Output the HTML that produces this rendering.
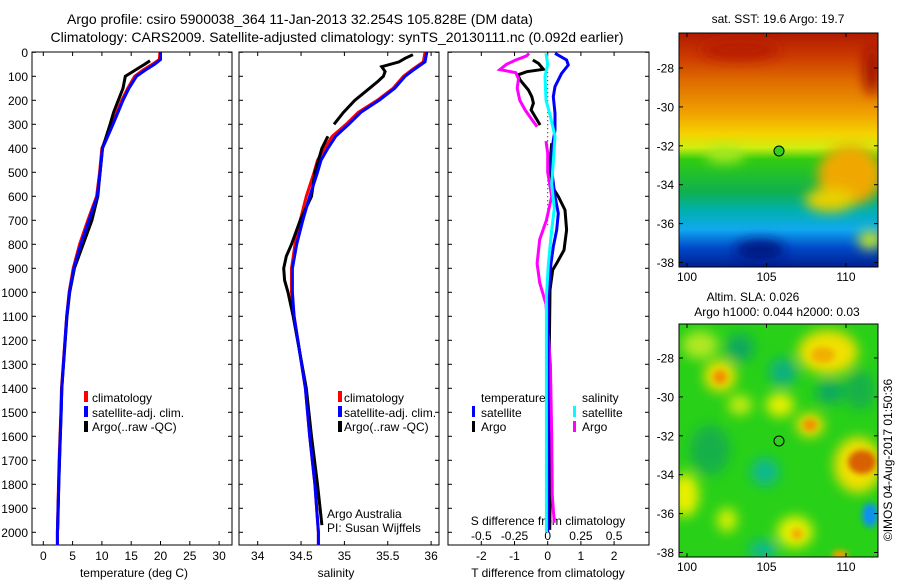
<!DOCTYPE html>
<html><head><meta charset="utf-8">
<style>
html,body{margin:0;padding:0;background:#fff;}
svg{display:block;font-family:"Liberation Sans",sans-serif;}
text{fill:#000;}
</style></head>
<body>
<svg id="fig" width="900" height="580" viewBox="0 0 900 580" xmlns="http://www.w3.org/2000/svg">
<defs>
<linearGradient id="sstgrad" x1="0" y1="0" x2="0" y2="1">
<stop offset="0" stop-color="#b01a00"/><stop offset="0.1" stop-color="#cc3a00"/>
<stop offset="0.2" stop-color="#de6a00"/><stop offset="0.34" stop-color="#f0a000"/>
<stop offset="0.43" stop-color="#f5d200"/><stop offset="0.49" stop-color="#d0ee10"/>
<stop offset="0.54" stop-color="#30cc10"/><stop offset="0.68" stop-color="#10b050"/>
<stop offset="0.76" stop-color="#00b0b0"/><stop offset="0.84" stop-color="#10a8f0"/>
<stop offset="0.92" stop-color="#0048c8"/><stop offset="1" stop-color="#002090"/>
</linearGradient>
<filter id="blur" x="-50%" y="-50%" width="200%" height="200%"><feGaussianBlur stdDeviation="6"/></filter>
<filter id="blur2" x="-50%" y="-50%" width="200%" height="200%"><feGaussianBlur stdDeviation="3"/></filter>
<clipPath id="clip1"><rect x="679" y="33" width="199" height="234"/></clipPath>
<clipPath id="clip2"><rect x="679" y="324" width="199" height="233"/></clipPath>
</defs>

<text x="300" y="24" font-size="14" text-anchor="middle">Argo profile: csiro 5900038_364 11-Jan-2013 32.254S 105.828E (DM data)</text>
<text x="337" y="42" font-size="14" text-anchor="middle">Climatology: CARS2009. Satellite-adjusted climatology: synTS_20130111.nc (0.092d earlier)</text>

<!-- SST map -->
<g>
<text x="778" y="23" font-size="12" text-anchor="middle">sat. SST: 19.6 Argo: 19.7</text>
<g clip-path="url(#clip1)">
<rect x="679" y="33" width="199" height="234" fill="url(#sstgrad)"/>
<g filter="url(#blur)">
<ellipse cx="850" cy="175" rx="32" ry="30" fill="#f0a800"/>
<ellipse cx="830" cy="200" rx="25" ry="12" fill="#e8d000"/>
<ellipse cx="870" cy="240" rx="12" ry="9" fill="#c8e820"/>
<ellipse cx="872" cy="70" rx="8" ry="25" fill="#a01000"/>
<ellipse cx="740" cy="50" rx="40" ry="10" fill="#b81a00"/>
<ellipse cx="760" cy="250" rx="25" ry="10" fill="#001880"/>
<ellipse cx="725" cy="155" rx="20" ry="8" fill="#a8e820"/>
</g>
</g>
<rect x="679" y="33" width="199" height="234" fill="none" stroke="#000"/>
<circle cx="779" cy="151" r="5" fill="#30d020" stroke="#000"/>
</g>

<!-- SLA map -->
<g>
<text x="753" y="301" font-size="12" text-anchor="middle">Altim. SLA: 0.026</text>
<text x="777" y="316" font-size="12" text-anchor="middle">Argo h1000: 0.044 h2000: 0.03</text>
<g clip-path="url(#clip2)">
<rect x="679" y="324" width="199" height="233" fill="#28d018"/>
<g filter="url(#blur)">
<ellipse cx="740" cy="348" rx="14" ry="14" fill="#10a860"/>
<ellipse cx="783" cy="372" rx="14" ry="14" fill="#10b080"/>
<ellipse cx="830" cy="392" rx="14" ry="12" fill="#10a860"/>
<ellipse cx="765" cy="472" rx="14" ry="14" fill="#10b890"/>
<ellipse cx="763" cy="550" rx="14" ry="10" fill="#10b890"/>
<ellipse cx="710" cy="450" rx="20" ry="25" fill="#18b048"/>
<ellipse cx="860" cy="390" rx="15" ry="20" fill="#18b048"/>
<ellipse cx="720" cy="376" rx="16" ry="16" fill="#f0e000"/>
<ellipse cx="828" cy="352" rx="30" ry="22" fill="#f0e000"/>
<ellipse cx="780" cy="405" rx="14" ry="12" fill="#e8f000"/>
<ellipse cx="810" cy="425" rx="14" ry="12" fill="#f0e000"/>
<ellipse cx="858" cy="465" rx="24" ry="28" fill="#f0e000"/>
<ellipse cx="685" cy="495" rx="14" ry="22" fill="#e8f000"/>
<ellipse cx="795" cy="532" rx="18" ry="16" fill="#e8f000"/>
<ellipse cx="727" cy="520" rx="10" ry="12" fill="#d8f000"/>
<ellipse cx="700" cy="345" rx="18" ry="14" fill="#b0e820"/>
<ellipse cx="740" cy="405" rx="12" ry="10" fill="#c8ec10"/>
</g>
<g filter="url(#blur2)">
<ellipse cx="720" cy="377" rx="7" ry="7" fill="#f09000"/>
<ellipse cx="823" cy="355" rx="12" ry="8" fill="#f0b000"/>
<ellipse cx="810" cy="425" rx="7" ry="6" fill="#f09000"/>
<ellipse cx="862" cy="462" rx="14" ry="12" fill="#d86000"/>
<ellipse cx="870" cy="515" rx="8" ry="12" fill="#1090f0"/>
<ellipse cx="797" cy="534" rx="6" ry="6" fill="#f0b000"/>
<ellipse cx="840" cy="555" rx="8" ry="5" fill="#f0a000"/>
</g>
</g>
<rect x="679" y="324" width="199" height="233" fill="none" stroke="#000"/>
<circle cx="779" cy="441" r="5" fill="#30d020" stroke="#000"/>
<text transform="translate(892,460) rotate(-90)" font-size="12" text-anchor="middle">©IMOS 04-Aug-2017 01:50:36</text>
</g>

<!-- legends and labels -->
<g>
<rect x="84" y="391" width="4" height="11" fill="#f00"/><text x="92" y="402" font-size="12">climatology</text>
<rect x="84" y="406" width="4" height="11" fill="#00f"/><text x="92" y="417" font-size="12">satellite-adj. clim.</text>
<rect x="84" y="421" width="4" height="11" fill="#000"/><text x="92" y="431" font-size="12">Argo(..raw -QC)</text>
</g>
<g>
<rect x="338" y="391" width="4" height="11" fill="#f00"/><text x="344" y="402" font-size="12">climatology</text>
<rect x="338" y="406" width="4" height="11" fill="#00f"/><text x="344" y="417" font-size="12">satellite-adj. clim.</text>
<rect x="338" y="421" width="4" height="11" fill="#000"/><text x="344" y="431" font-size="12">Argo(..raw -QC)</text>
</g>
<text x="327" y="518" font-size="12">Argo Australia</text>
<text x="327" y="532" font-size="12">PI: Susan Wijffels</text>
<g>
<text x="481" y="402" font-size="12">temperature</text>
<text x="582" y="402" font-size="12">salinity</text>
<rect x="472" y="406" width="3" height="11" fill="#00f"/><text x="481" y="417" font-size="12">satellite</text>
<rect x="472" y="421" width="3" height="11" fill="#000"/><text x="481" y="431" font-size="12">Argo</text>
<rect x="573" y="406" width="3" height="11" fill="#0ff"/><text x="582" y="417" font-size="12">satellite</text>
<rect x="573" y="421" width="3" height="11" fill="#f0f"/><text x="582" y="431" font-size="12">Argo</text>
</g>
<text x="548" y="525" font-size="12" text-anchor="middle">S difference from climatology</text>
<text x="548" y="577" font-size="12" text-anchor="middle">T difference from climatology</text>
<text x="134" y="577" font-size="12" text-anchor="middle">temperature (deg C)</text>
<text x="336" y="577" font-size="12" text-anchor="middle">salinity</text>
<g id="plots"></g>
</svg>
<script>
// ---- data ----
const depthTicks=[0,100,200,300,400,500,600,700,800,900,1000,1100,1200,1300,1400,1500,1600,1700,1800,1900,2000];
const tempTicks=[0,5,10,15,20,25,30];
const salTicks=[34,34.5,35,35.5,36];
const tdiffTicks=[-2,-1,0,1,2];
const sdiffTicks=[-0.5,-0.25,0,0.25,0.5];
const sdiffTickLabels=["-0.5","-0.25","0","0.25","0.5"];

const climTempDepth=[0,30,50,74,100,150,200,300,400,500,600,700,800,900,1000,1100,1400,1500,1700,2000,2055];
const climTemp=[19.9,19.8,18.6,17.0,15.6,14.4,13.4,11.7,10.0,9.6,9.1,7.6,6.2,5.1,4.4,4.0,3.1,3.0,2.7,2.4,2.4];
const satTemp=[20.0,20.0,19.0,17.4,15.9,14.6,13.6,11.9,10.1,9.7,9.2,7.8,6.4,5.2,4.45,4.0,3.15,3.05,2.75,2.4,2.4];
const argoTempDepth=[35,50,65,80,100,150,200,250,300,400,500,600,700,800,900,1000,1100,1400,1600,1800,1990];
const argoTemp=[18.2,17.3,16.3,15.3,14.0,13.6,12.8,12.0,11.4,10.1,9.7,9.3,8.3,6.8,5.3,4.5,4.05,3.15,2.9,2.65,2.45];

const climSalDepth=[0,40,70,100,150,200,250,300,350,400,450,500,600,700,800,900,1000,1100,1400,1600,1800,2000,2055];
const climSal=[35.93,35.91,35.79,35.68,35.56,35.38,35.16,35.02,34.86,34.77,34.69,34.65,34.56,34.49,34.43,34.39,34.39,34.42,34.55,34.60,34.66,34.70,34.70];
const satSal=[35.95,35.93,35.81,35.70,35.58,35.40,35.19,35.05,34.90,34.81,34.73,34.69,34.60,34.52,34.45,34.40,34.40,34.42,34.55,34.60,34.66,34.70,34.70];
const argoSalDepth=[10,25,40,60,80,100,120,150,200,250,300,350,400,500,600,700,800,850,900,950,1000,1100,1400,1600,1800,1900,1970];
const argoSal=[35.79,35.70,35.63,35.43,35.47,35.45,35.39,35.29,35.12,34.99,34.88,34.81,34.74,34.66,34.62,34.49,34.39,34.33,34.30,34.31,34.35,34.41,34.56,34.62,34.69,34.72,34.74];

const tdiffSatDepth=[4,32,53,88,143,185,254,324,393,490,601,671,740,810,879,949,1018,1200,1500,2000];
const tdiffSat=[0.22,0.57,0.62,0.42,0.22,0.17,0.22,0.22,0.14,0.12,0.22,0.32,0.27,0.17,0.10,0.05,0.02,0.01,0.0,0.0];
const tdiffArgoDepth=[32,46,71,81,94,115,157,185,212,240,268,303,379,462,546,601,657,740,824,879,907,990,1200,1500,1800,1990];
const tdiffArgo=[-0.45,-0.28,-0.13,-0.63,-0.90,-0.83,-0.58,-0.48,-0.43,-0.50,-0.38,-0.23,0.12,0.07,0.07,0.32,0.52,0.57,0.49,0.27,0.15,0.07,0.05,0.05,0.08,0.06];
const sdiffSatDepth=[4,50,100,200,260,350,450,550,650,740,880,1018,1500,2000];
const sdiffSat=[-0.013,0.0,-0.02,-0.013,0.017,0.055,0.043,0.03,0.05,0.03,0.005,-0.01,-0.01,-0.01];
const sdiffArgoDepth=[5,15,32,50,72,85,110,150,200,240,280,310,370,420,500,600,700,780,880,960,1050,1300,1600,1850,1960];
const sdiffArgo=[-0.14,-0.16,-0.24,-0.31,-0.36,-0.24,-0.22,-0.23,-0.21,-0.17,-0.12,-0.08,-0.013,0.0,0.0,0.03,-0.01,-0.06,-0.08,-0.06,-0.013,0.02,0.03,0.035,0.05];

// ---- layout / scales ----
const NS="http://www.w3.org/2000/svg";
const root=document.getElementById('plots');
const Y0=52.3, PPM=0.24, TOP=52, BOT=545;
const yD=d=>Y0+d*PPM;
const xT=t=>43.3+t*5.86;
const xS=s=>257.7+(s-34)*86.7;
const xTD=t=>547.7+t*33.2;
const xSD=s=>547.7+s*132.8;
const panels=[[32,232],[239,439],[448,649]];

function el(tag,attrs,parent){const e=document.createElementNS(NS,tag);for(const k in attrs)e.setAttribute(k,attrs[k]);(parent||root).appendChild(e);return e;}

panels.forEach((p,i)=>{
  const f=el('rect',{x:p[0],y:TOP,width:p[1]-p[0],height:BOT-TOP,fill:'none',stroke:'#000'});
  
  
  depthTicks.forEach(d=>{
    el('line',{x1:p[0],x2:p[0]+4,y1:yD(d),y2:yD(d),stroke:'#000'});
    el('line',{x1:p[1]-4,x2:p[1],y1:yD(d),y2:yD(d),stroke:'#000'});
  });
});
depthTicks.forEach(d=>{
  const t=el('text',{x:28,y:yD(d)+4.5,'font-size':12,'text-anchor':'end'});
  t.textContent=d;
  
  
});
function xticks(vals,labels,fx,p,ly){
  vals.forEach((v,i)=>{
    const x=fx(v);
    el('line',{x1:x,x2:x,y1:TOP,y2:TOP+4,stroke:'#000'});
    el('line',{x1:x,x2:x,y1:BOT-4,y2:BOT,stroke:'#000'});
    const t=el('text',{x:x,y:ly,'font-size':12,'text-anchor':'middle'});
    t.textContent=labels[i];
    
    
  });
}
xticks(tempTicks,tempTicks.map(String),xT,panels[0],560);
xticks(salTicks,salTicks.map(String),xS,panels[1],560);
xticks(tdiffTicks,tdiffTicks.map(String),xTD,panels[2],560);
sdiffTicks.forEach((v,i)=>{
  const t=el('text',{x:xSD(v),y:540,'font-size':12,'text-anchor':'middle'});
  t.textContent=sdiffTickLabels[i];
  
  
});
const z=el('line',{x1:xTD(0),x2:xTD(0),y1:yD(0),y2:yD(720),stroke:'#000','stroke-dasharray':'1,3'});



function series(depths,vals,fx,color,name,breakAfter){
  let pts=depths.map((d,i)=>fx(vals[i]).toFixed(1)+','+yD(d).toFixed(1));
  let segs=[pts];
  if(breakAfter!=null){const k=depths.findIndex(d=>d>breakAfter);segs=[pts.slice(0,k),pts.slice(k)];}
  segs.forEach(s=>{
    const l=el('polyline',{points:s.join(' '),fill:'none',stroke:color,'stroke-width':3,'stroke-linejoin':'miter'});
    
    
  });
}
series(climTempDepth,climTemp,xT,'#f00','temp-climatology-line');
series(argoTempDepth,argoTemp,xT,'#000','temp-argo-line');
series(climTempDepth,satTemp,xT,'#00f','temp-satellite-line');
series(climSalDepth,climSal,xS,'#f00','salinity-climatology-line');
series(argoSalDepth,argoSal,xS,'#000','salinity-argo-line',310);
series(climSalDepth,satSal,xS,'#00f','salinity-satellite-line');
series(tdiffArgoDepth,tdiffArgo,xTD,'#000','t-diff-argo-line',310);
series(sdiffArgoDepth,sdiffArgo,xSD,'#f0f','s-diff-argo-line',315);
series(tdiffSatDepth,tdiffSat,xTD,'#00f','t-diff-satellite-line');
series(sdiffSatDepth,sdiffSat,xSD,'#0ff','s-diff-satellite-line');

// map axes
const lon=[100,105,110], lat=[-28,-30,-32,-34,-36,-38];
[[33,267,68],[324,557,358]].forEach((m,j)=>{
  lon.forEach(v=>{
    const x=687+(v-100)*15.9;
    el('line',{x1:x,x2:x,y1:m[0],y2:m[0]+4,stroke:'#000'});
    el('line',{x1:x,x2:x,y1:m[1]-4,y2:m[1],stroke:'#000'});
    const t=el('text',{x:x,y:m[1]+14,'font-size':12,'text-anchor':'middle'});
    t.textContent=v;
    
    
  });
  lat.forEach(v=>{
    const y=m[2]+(-28-v)*19.45;
    el('line',{x1:679,x2:683,y1:y,y2:y,stroke:'#000'});
    el('line',{x1:874,x2:878,y1:y,y2:y,stroke:'#000'});
    const t=el('text',{x:674,y:y+4.5,'font-size':12,'text-anchor':'end'});
    t.textContent=v;
    
    
  });
});
</script>
</body></html>
